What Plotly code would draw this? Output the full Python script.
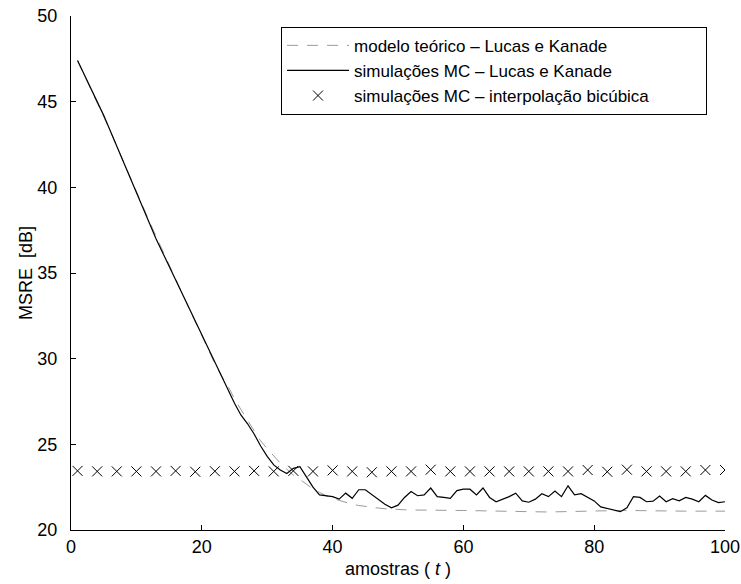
import plotly.graph_objects as go

t = list(range(1, 101))

mc_lk = [47.4, 46.6, 45.8, 45.05, 44.2, 43.3, 42.4, 41.4, 40.5, 39.7,
         38.8, 37.9, 37.0, 36.2, 35.4, 34.6, 33.8, 32.9, 32.1, 31.4,
         30.6, 29.8, 28.9, 28.2, 27.4, 26.7, 26.2, 25.6, 24.9, 24.3,
         23.8, 23.5, 23.3, 23.6, 23.7, 23.1, 22.5, 22.05, 22.0, 21.95,
         21.8, 22.15, 21.85, 22.35, 22.35, 22.05, 21.75, 21.5, 21.3, 21.45,
         21.9, 22.25, 22.0, 22.05, 22.45, 21.95, 21.9, 21.85, 22.3, 22.38,
         22.38, 22.05, 22.45, 21.9, 21.65, 21.78, 21.95, 22.15, 21.7, 21.62,
         21.8, 22.12, 21.95, 22.28, 21.95, 22.58, 22.05, 22.12, 21.9, 21.7,
         21.35, 21.27, 21.17, 21.07, 21.3, 21.95, 21.9, 21.65, 21.68, 21.98,
         21.65, 21.83, 21.7, 21.9, 21.8, 21.65, 22.02, 21.75, 21.6, 21.65]

teorico = [47.4, 46.6, 45.8, 45.0, 44.2, 43.3, 42.4, 41.5, 40.6, 39.7,
           38.85, 38.0, 37.15, 36.3, 35.45, 34.6, 33.8, 33.0, 32.15, 31.35,
           30.5, 29.7, 29.0, 28.4, 27.65, 27.0, 26.4, 25.8, 25.2, 24.75,
           24.3, 23.9, 23.55, 23.2, 22.95, 22.65, 22.4, 22.2, 22.0, 21.85,
           21.72, 21.6, 21.5, 21.43, 21.37, 21.32, 21.28, 21.24, 21.21, 21.19,
           21.18, 21.17, 21.16, 21.16, 21.15, 21.15, 21.15, 21.14, 21.14, 21.14,
           21.13, 21.12, 21.11, 21.1, 21.09, 21.08, 21.07, 21.06, 21.05, 21.05,
           21.05, 21.05, 21.05, 21.06, 21.06, 21.07, 21.08, 21.09, 21.1, 21.11,
           21.12, 21.13, 21.14, 21.15, 21.15, 21.14, 21.13, 21.12, 21.12, 21.11,
           21.11, 21.1, 21.1, 21.1, 21.1, 21.1, 21.1, 21.1, 21.1, 21.1]

t_bic = list(range(1, 101, 3))
bicubica = [23.45, 23.42, 23.42, 23.42, 23.42, 23.45, 23.4, 23.43, 23.42, 23.45,
            23.42, 23.45, 23.42, 23.48, 23.42, 23.37, 23.42, 23.42, 23.52, 23.42,
            23.42, 23.42, 23.42, 23.42, 23.42, 23.42, 23.5, 23.4, 23.52, 23.42,
            23.42, 23.42, 23.5, 23.5]

names = ["modelo teórico – Lucas e Kanade",
         "simulações MC – Lucas e Kanade",
         "simulações MC – interpolação bicúbica"]

x_ticks = [0, 20, 40, 60, 80, 100]
y_ticks = [20, 25, 30, 35, 40, 45, 50]

pad = "\u00a0" * 11  # trailing padding to widen the legend box like the original

fig = go.Figure()
fig.add_trace(go.Scatter(x=t, y=teorico, mode="lines", name=names[0],
                         line=dict(color="#9a9a9a", width=1, dash="11px,9px")))
fig.add_trace(go.Scatter(x=t, y=mc_lk, mode="lines", name=names[1],
                         line=dict(color="black", width=1.2)))
fig.add_trace(go.Scatter(x=t_bic, y=bicubica, mode="markers", name=names[2] + pad,
                         marker=dict(symbol="x-thin-open", size=10, color="black",
                                     line=dict(color="black", width=1))))

font = "Liberation Sans, Arial, sans-serif"
fig.update_layout(
    width=741, height=584,
    margin=dict(l=71, r=16, t=16, b=54, autoexpand=False),
    paper_bgcolor="white", plot_bgcolor="white",
    font=dict(family=font, size=18, color="black"),
    showlegend=True,
    legend=dict(x=0.9725, y=0.979, xanchor="right", yanchor="top",
                bordercolor="black", borderwidth=1, bgcolor="white",
                font=dict(family=font, size=17), tracegroupgap=0,
                itemwidth=62),
    xaxis=dict(range=[0, 100], tickvals=x_ticks, ticks="inside", ticklen=5,
               tickcolor="black", showline=True, linecolor="black", linewidth=1,
               showgrid=False, zeroline=False, mirror=False, automargin=False,
               tickfont=dict(size=18),
               title=dict(text="amostras ( <i>t</i> )", standoff=6,
                          font=dict(size=18))),
    yaxis=dict(range=[20, 50], tickvals=y_ticks, ticks="inside", ticklen=5,
               tickcolor="black", showline=True, linecolor="black", linewidth=1,
               showgrid=False, zeroline=False, mirror=False, automargin=False,
               tickfont=dict(size=18), ticklabelstandoff=9,
               title=dict(text="MSRE  [dB]", standoff=0, font=dict(size=18))),
)

fig.write_html("out.html")
